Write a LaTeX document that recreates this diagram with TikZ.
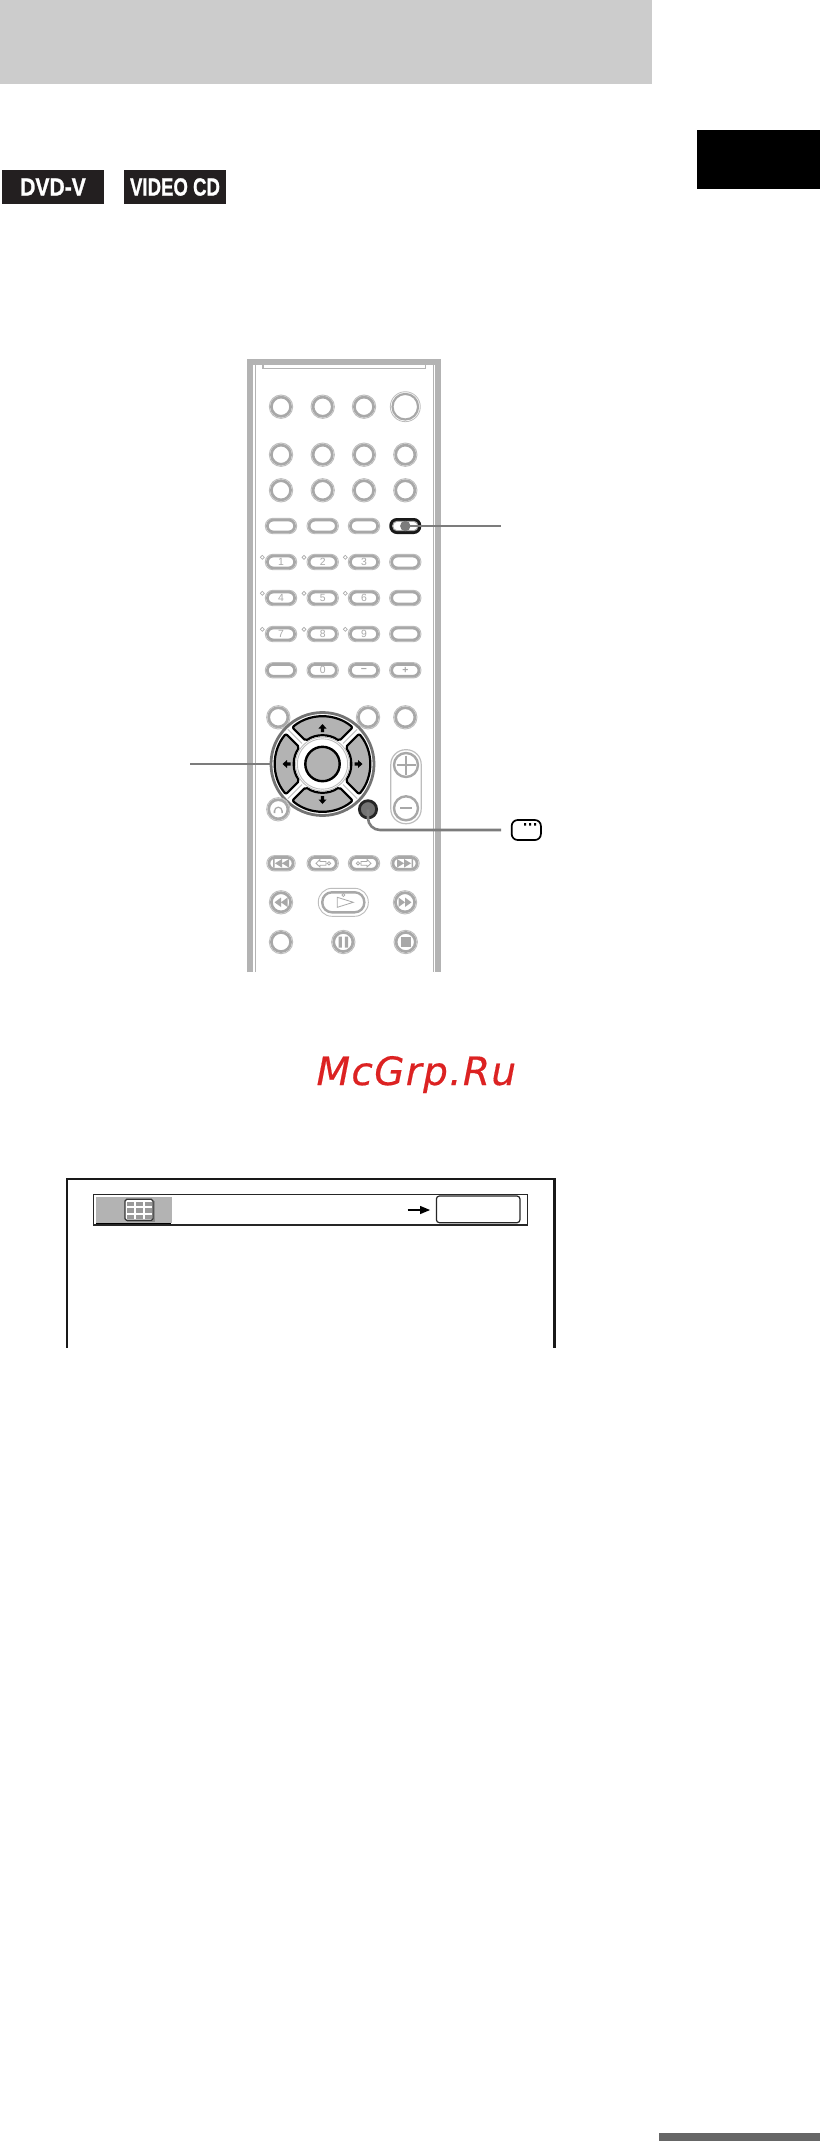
\documentclass[tikz,border=0pt]{standalone}
\usepackage{fontspec}
\setmainfont{Liberation Sans}
\newfontfamily\wmfont[LetterSpace=3.4,FakeBold=.4]{DejaVu Sans}
\newfontfamily\badgefont[FakeBold=1.2]{Liberation Sans Bold}
\definecolor{gl}{HTML}{BDBDBD}
\definecolor{gm}{HTML}{A8A8A8}
\definecolor{band}{HTML}{B3B3B3}
\definecolor{conn}{HTML}{7C7C7C}
\definecolor{wred}{HTML}{DC2222}
\definecolor{badge}{HTML}{231F20}
\tikzset{
  base/.style={inner sep=0pt,outer sep=0pt},
  ringout/.style={base,circle,draw=gl,line width=.45pt,fill=white,minimum size=11.7pt},
  ringin/.style={base,circle,draw=gm,line width=1.35pt,minimum size=9.6pt},
  pillout/.style={base,draw=gl,line width=.45pt,fill=white,minimum width=15.7pt,minimum height=7.7pt,rounded corners=3.8pt},
  pillin/.style={base,draw=gm,line width=1.35pt,minimum width=13.6pt,minimum height=5.9pt,rounded corners=2.9pt,font=\fontsize{5.2}{5.4}\selectfont,text=gm},
  connector/.style={draw=conn,line width=1.3pt},
  badgebox/.style={base,fill=badge,text=white,minimum width=51pt,minimum height=17pt,font=\badgefont\fontsize{12.4}{13}\selectfont},
}
\newcommand\ringbtn[3]{\node[ringout] (#1) at (#2,#3) {};\node[ringin] at (#2,#3) {};}
\newcommand\pillbtn[4]{\node[pillout] (#1) at (#2,#3) {};\node[pillin] at (#2,#3) {#4};}
\begin{document}
\begin{tikzpicture}[x=.5pt,y=-.5pt]
\useasboundingbox (0,0) rectangle (820,2141);
% page marks
\fill[fill=white] (0,0) rectangle (820,2141);
\fill[fill=black!20] (0,0) rectangle (652,83.7);
\fill[fill=black] (697,130) rectangle (820,189);
\fill[fill=black!60] (659,2132.7) rectangle (820,2141);
% badges
\node[badgebox] (dvd) at (53,187) {\scalebox{.85}[1]{DVD-V}};
\node[badgebox] (vcd) at (175,187) {\scalebox{.75}[1]{VIDEO CD}};
% remote body
\draw[band,line width=3pt] (250,972) -- (250,361.5) -- (438,361.5) -- (438,972);
\draw[band,line width=.45pt] (255,972) -- (255,364) -- (433,364) -- (433,972);
\draw[band,line width=.9pt] (263,364) -- (263,368.5) -- (425.5,368.5) -- (425.5,364);
% circle rows
\foreach \n/\x in {a/281,b/322.7,c/364}{\ringbtn{top\n}{\x}{406.7}}
\node[base,circle,draw=gl,line width=.4pt,minimum size=15pt] (topd) at (405.3,406.7) {};
\node[base,circle,draw=gm,line width=1.1pt,minimum size=12.8pt] at (405.3,406.7) {};
\foreach \n/\x in {a/281,b/322.7,c/364,d/405.3}{
  \ringbtn{rb\n}{\x}{454.7}
  \ringbtn{rc\n}{\x}{490.3}
}
% pills
\pillbtn{pa}{281}{526}{}
\pillbtn{pb}{322.7}{526}{}
\pillbtn{pc}{364}{526}{}
\node[base,draw=black!90,line width=1.8pt,fill=white,minimum width=14.2pt,minimum height=6.2pt,rounded corners=2.9pt] (subt) at (405.3,526) {};
\node[base,draw=gm,line width=.5pt,minimum width=12.6pt,minimum height=4.7pt,rounded corners=2.2pt] at (405.3,526) {};
\node[base,circle,fill=conn,minimum size=5.2pt] (subtc) at (405.3,526) {};
\foreach \r/\y/\p/\q/\s in {1/562/1/2/3,2/598/4/5/6,3/634/7/8/9}{
  \pillbtn{n\p}{281}{\y}{\p}
  \pillbtn{n\q}{322.7}{\y}{\q}
  \pillbtn{n\s}{364}{\y}{\s}
  \pillbtn{e\r}{405.3}{\y}{}
  \foreach \x in {262.3,304,345.3}{
    \draw[gm,line width=.35pt] (\x-2,\y-4.7) -- (\x,\y-6.7) -- (\x+2,\y-4.7) -- (\x,\y-2.7) -- cycle;
  }
}
\pillbtn{za}{281}{670.3}{}
\pillbtn{zb}{322.7}{670.3}{0}
\pillbtn{zc}{364}{670.3}{\textbf{−}}
\pillbtn{zd}{405.3}{670.3}{\textbf{+}}
% row above d-pad
\ringbtn{ua}{278.3}{717.3}
\ringbtn{ub}{368}{717.3}
\ringbtn{uc}{405.3}{717.3}
% d-pad
\node[base,circle,draw=black!55,line width=1.4pt,fill=white,minimum size=51.5pt] (dpad) at (322.5,764) {};
\begin{scope}[shift={(322.5,764)}]
  \foreach \a in {90,180,270,0}{
    \draw[black,line width=1.1pt,fill=band,line join=round,rounded corners=1pt]
      (\a-39.6:47.5) arc[start angle=\a-39.6,end angle=\a+39.6,radius=47.5]
      -- (\a+35.9:28.5) arc[start angle=\a+35.9,end angle=\a-35.9,radius=28.5] -- cycle;
  }
  \foreach \a in {45,135,225,315}{
    \draw[gl,line width=.4pt] (\a:29) -- (\a:49);
  }
  \foreach \r in {0,90,180,270}{
    \fill[black,rotate=\r] (0,-40) -- (4,-35.5) -- (1.6,-35.5) -- (1.6,-32) -- (-1.6,-32) -- (-1.6,-35.5) -- (-4,-35.5) -- cycle;
  }
\end{scope}
\node[base,circle,draw=gl,line width=.45pt,minimum size=27pt] at (322.5,764) {};
\node[base,circle,draw=gl,line width=.45pt,minimum size=25.2pt] at (322.5,764) {};
\node[base,circle,draw=black,line width=1.2pt,fill=band,minimum size=17.2pt] (enter) at (322.5,764) {};
% volume capsule
\node[base,draw=gl,line width=.6pt,fill=white,minimum width=15.2pt,minimum height=37pt,rounded corners=7.4pt] (vol) at (406,786.7) {};
\node[base,circle,draw=gm,line width=1.2pt,minimum size=12pt,fill=white] (volp) at (406,765) {};
\node[base,circle,draw=gm,line width=1.2pt,minimum size=12pt,fill=white] (volm) at (406,808.3) {};
\draw[gm,line width=1pt] (396.5,765) -- (415.5,765) (406,755.5) -- (406,774.5);
\draw[gm,line width=1pt] (400,808.3) -- (412,808.3);
% headphone + display button
\ringbtn{hp}{278.3}{809.3}
\draw[gm,line width=.6pt] (274.5,811) arc[start angle=180,end angle=360,radius=3.8];
\fill[gm] (273.7,810.5) rectangle (275.3,813) (281.3,810.5) rectangle (282.9,813);
\node[base,circle,draw=black!85,line width=1.4pt,fill=black!55,minimum size=8.6pt] (disp) at (368,809.3) {};
% skip row
\foreach \n/\x/\w in {a/281/14.2,b/322.7/15.7,c/364/15.7,d/405/14.2}{
  \node[base,draw=gl,line width=.45pt,fill=white,minimum width=\w pt,minimum height=7.7pt,rounded corners=3.8pt] (sk\n) at (\x,863.3) {};
  \node[base,draw=gm,line width=1.35pt,minimum width=\w pt-2.2pt,minimum height=5.9pt,rounded corners=2.9pt] at (\x,863.3) {};
}
\fill[gm] (273,859) rectangle (274.5,867.6) (282,859) -- (282,867.6) -- (275,863.3) -- cycle (289,859) -- (289,867.6) -- (282,863.3) -- cycle;
\fill[gm] (413,859) rectangle (411.5,867.6) (404,859) -- (404,867.6) -- (411,863.3) -- cycle (397,859) -- (397,867.6) -- (404,863.3) -- cycle;
\draw[gm,line width=.4pt] (316,863.3) -- (320,859.5) -- (320,861.5) -- (326,861.5) -- (326,865.2) -- (320,865.2) -- (320,867.1) -- cycle (329,863.3) circle[radius=1.7];
\draw[gm,line width=.4pt] (371,863.3) -- (367,859.5) -- (367,861.5) -- (361,861.5) -- (361,865.2) -- (367,865.2) -- (367,867.1) -- cycle (358,863.3) circle[radius=1.7];
% transport
\ringbtn{rew}{281}{902.3}
\fill[gm] (274.5,902.3) -- (281,897.5) -- (281,907) -- cycle (281,902.3) -- (287.5,897.5) -- (287.5,907) -- cycle;
\ringbtn{ffw}{405}{902.3}
\fill[gm] (411.5,902.3) -- (405,897.5) -- (405,907) -- cycle (405,902.3) -- (398.5,897.5) -- (398.5,907) -- cycle;
\node[base,draw=gl,line width=.45pt,fill=white,minimum width=25pt,minimum height=14pt,rounded corners=6.8pt] (play) at (343.3,902.3) {};
\node[base,draw=gm,line width=1.2pt,minimum width=21pt,minimum height=10pt,rounded corners=4.8pt] at (343.3,902.3) {};
\draw[gm,line width=.4pt] (337.3,897.3) -- (353.3,902.3) -- (337.3,907.3) -- cycle;
\draw[gm,line width=.35pt] (341.8,895) -- (343.3,893.5) -- (344.8,895) -- (343.3,896.5) -- cycle;
\ringbtn{rec}{281}{942}
\ringbtn{pau}{343.3}{942}
\fill[gm] (338.5,936.5) rectangle (341.8,947.5) (344.8,936.5) rectangle (348.1,947.5);
\ringbtn{stp}{405.7}{942}
\fill[gm] (400.7,937) rectangle (410.7,947);
% connectors
\coordinate (c1end) at (501,526);
\coordinate (c2end) at (190,764);
\coordinate (c3end) at (501,830);
\draw[connector] (subtc.center) -- (c1end);
\draw[connector] (c2end) -- (dpad.west);
\draw[connector,rounded corners=6pt] (disp.center) |- (c3end);
% tv icon
\node[base,draw=black,line width=.85pt,fill=white,minimum width=14.6pt,minimum height=10pt,rounded corners=3pt] (tv) at (526.3,830) {};
\fill[black] (524,823) rectangle (526,825.5) (529,823) rectangle (531,825.5) (534,823) rectangle (536,825.5);
% watermark
\node[base,anchor=base west,text=wred,font=\wmfont\itshape\fontsize{19.5}{20}\selectfont] (wm) at (316.5,1085) {McGrp.Ru};
% screen
\draw[black!90,line width=1.2pt] (66.9,1347.7) -- (66.9,1179) -- (554.4,1179) -- (554.4,1347.7);
\fill[black!85] (93.3,1194) rectangle (527.7,1225.5);
\fill[white] (94.3,1195) rectangle (526.7,1223.6);
\fill[band] (95.6,1196.7) rectangle (171.7,1223.3);
\draw[black,line width=.5pt] (95.6,1223.6) -- (171,1223.6);
\fill[black!45] (127,1201) rectangle (155,1222);
\draw[black!80,fill=white,line width=.6pt,rounded corners=.8pt] (125,1199.3) rectangle (153,1220.3);
\foreach \x in {127,136,145}{\foreach \y in {1201.5,1208,1214.5}{
  \fill[black!40] (\x,\y) rectangle (\x+7,\y+4.8);
}}
\draw[black,line width=.8pt] (407.7,1210) -- (421,1210);
\fill[black] (420,1205.8) -- (430,1210) -- (420,1214.2) -- cycle;
\draw[black!85,line width=.6pt,rounded corners=1.5pt] (436.4,1196) rectangle (520,1222.7);
\end{tikzpicture}
\end{document}
